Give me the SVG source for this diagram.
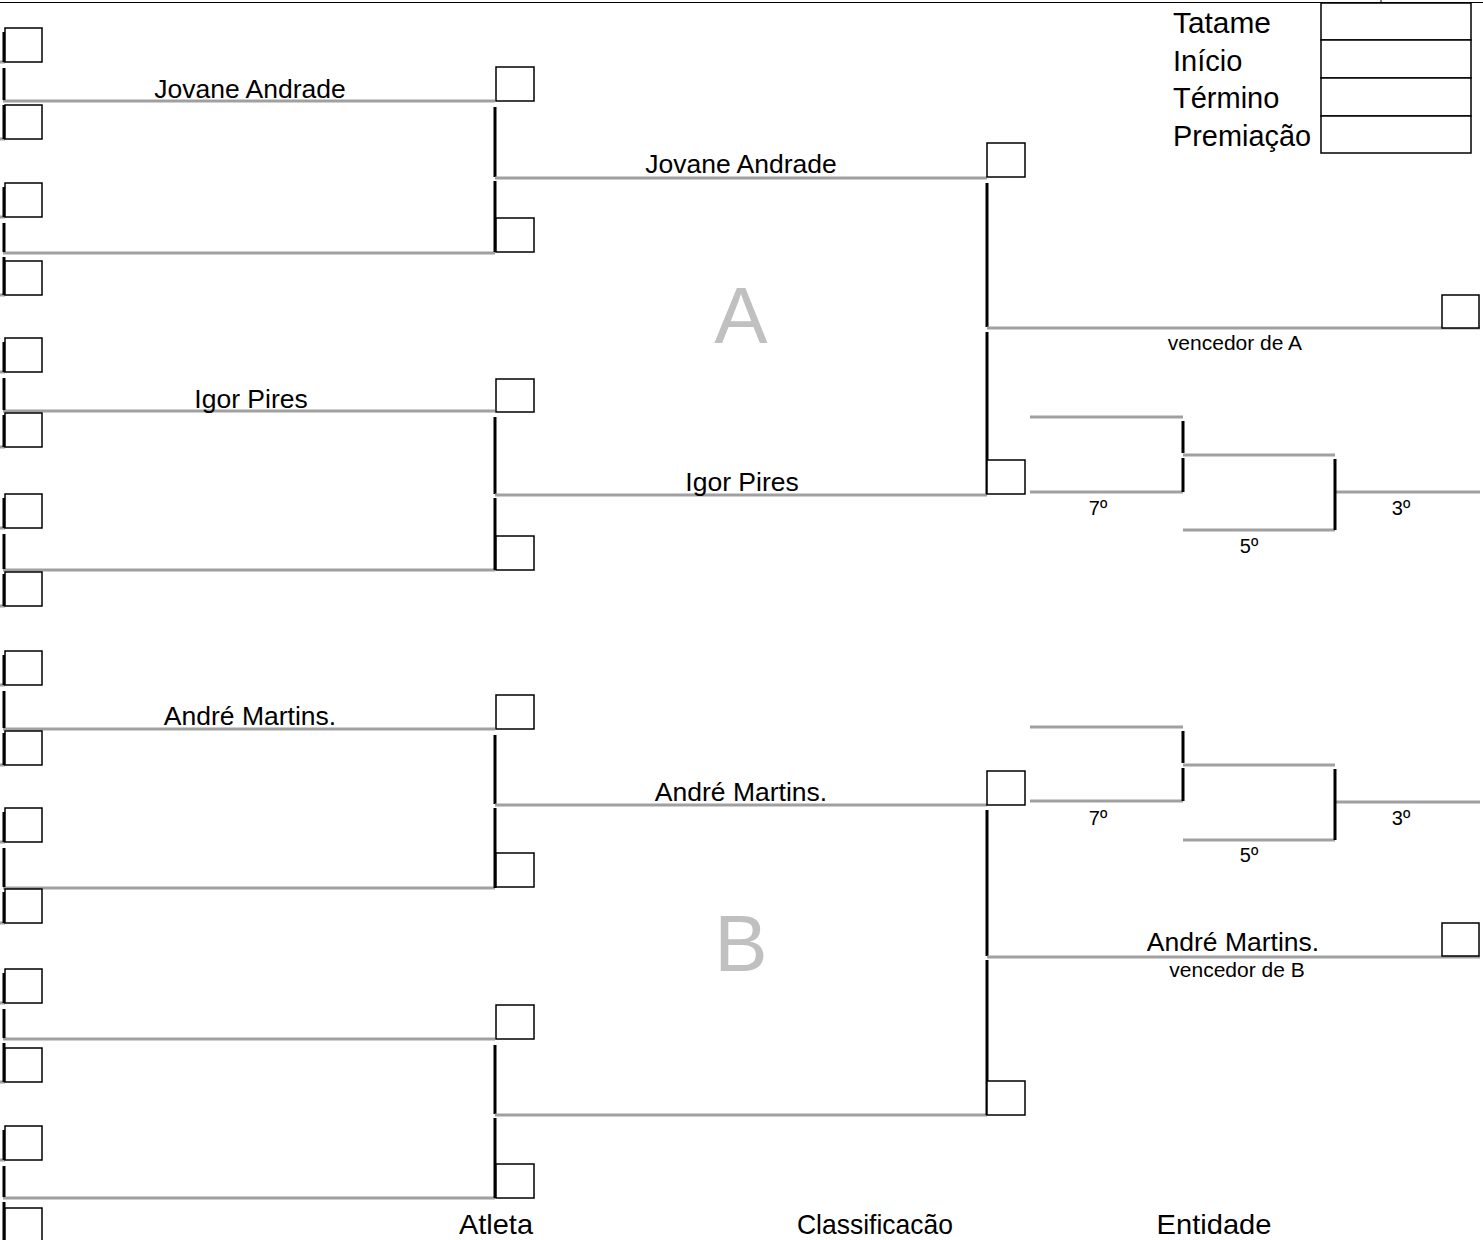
<svg xmlns="http://www.w3.org/2000/svg" width="1483" height="1240" viewBox="0 0 1483 1240">
<style>
.bx{fill:#fff;stroke:#000;stroke-width:1.5}
.g{stroke:#a0a0a0;stroke-width:3;fill:none}
.k{stroke:#000;stroke-width:3;fill:none}
.t{font-family:"Liberation Sans",Arial,sans-serif;fill:#000}
.n{font-size:26.5px;text-anchor:middle}
.s{font-size:20px;text-anchor:middle}
.v{font-size:21px;text-anchor:middle}
.big{font-size:80px;text-anchor:middle;fill:#c0c0c0}
.h{font-size:29px}
.f{font-size:28px;text-anchor:middle}
</style>
<rect width="1483" height="1240" fill="#fff"/>
<line x1="0" y1="2.5" x2="1483" y2="2.5" stroke="#000" stroke-width="1.2"/>
<line x1="1381" y1="0" x2="1381" y2="3" stroke="#000" stroke-width="1"/>
<g id="header">
<rect class="bx" x="1321" y="3" width="150" height="37"/>
<rect class="bx" x="1321" y="40" width="150" height="38"/>
<rect class="bx" x="1321" y="78" width="150" height="38"/>
<rect class="bx" x="1321" y="116" width="150" height="37"/>
<text class="t h" x="1173" y="33" textLength="98" lengthAdjust="spacingAndGlyphs">Tatame</text>
<text class="t h" x="1173" y="71">Início</text>
<text class="t h" x="1173" y="108">Término</text>
<text class="t h" x="1173" y="146" textLength="138" lengthAdjust="spacingAndGlyphs">Premiação</text>
</g>
<g id="connectors">
<path class="g" d="M3 101H495M3 253H495M3 411H495M3 570H495M3 729H495M3 888H495M3 1039H495M3 1198H495"/>
<path class="g" d="M0 62H5M0 139H5M0 217H5M0 295H5M0 372H5M0 447H5M0 528H5M0 606H5M0 685H5M0 765H5M0 842H5M0 923H5M0 1003H5M0 1082H5M0 1160H5"/>
<path class="k" d="M4 32V62M4 68V100M4 105V139
M4 187V217M4 223V252M4 257V295
M4 342V372M4 378V410M4 415V447
M4 498V528M4 534V569M4 574V606
M4 655V685M4 691V728M4 733V765
M4 812V842M4 848V887M4 892V923
M4 973V1003M4 1009V1038M4 1043V1082
M4 1130V1160M4 1166V1197M4 1202V1240"/>
<path class="k" d="M495 107V177M495 181V252M495 417V494M495 498V570M495 735V804M495 808V888M495 1045V1114M495 1118V1198"/>
<path class="g" d="M495 178H987M495 495H987M495 805H987M495 1115H987"/>
<path class="k" d="M987 183V327M987 332V494M987 810V956M987 960V1115"/>
<path class="g" d="M987 328H1480M987 957H1480"/>
<path class="g" d="M1030 417H1183M1030 492H1183M1183 455H1335M1183 530H1335M1335 492H1480"/>
<path class="k" d="M1183 421V453M1183 458V492M1335 459V530"/>
<path class="g" d="M1030 727H1183M1030 801H1183M1183 765H1335M1183 840H1335M1335 802H1480"/>
<path class="k" d="M1183 731V763M1183 768V801M1335 769V840"/>
</g>
<g id="round1">
<rect class="bx" x="5" y="28" width="37" height="34"/>
<rect class="bx" x="5" y="105" width="37" height="34"/>
<rect class="bx" x="5" y="183" width="37" height="34"/>
<rect class="bx" x="5" y="261" width="37" height="34"/>
<rect class="bx" x="5" y="338" width="37" height="34"/>
<rect class="bx" x="5" y="413" width="37" height="34"/>
<rect class="bx" x="5" y="494" width="37" height="34"/>
<rect class="bx" x="5" y="572" width="37" height="34"/>
<rect class="bx" x="5" y="651" width="37" height="34"/>
<rect class="bx" x="5" y="731" width="37" height="34"/>
<rect class="bx" x="5" y="808" width="37" height="34"/>
<rect class="bx" x="5" y="889" width="37" height="34"/>
<rect class="bx" x="5" y="969" width="37" height="34"/>
<rect class="bx" x="5" y="1048" width="37" height="34"/>
<rect class="bx" x="5" y="1126" width="37" height="34"/>
<rect class="bx" x="5" y="1208" width="37" height="34"/>
<text class="t n" x="250" y="98">Jovane Andrade</text>
<text class="t n" x="251" y="408">Igor Pires</text>
<text class="t n" x="250" y="725">André Martins.</text>
</g>
<g id="round2">
<rect class="bx" x="496" y="67" width="38" height="34"/>
<rect class="bx" x="496" y="218" width="38" height="34"/>
<rect class="bx" x="496" y="379" width="38" height="33"/>
<rect class="bx" x="496" y="536" width="38" height="34"/>
<rect class="bx" x="496" y="695" width="38" height="34"/>
<rect class="bx" x="496" y="853" width="38" height="34"/>
<rect class="bx" x="496" y="1005" width="38" height="34"/>
<rect class="bx" x="496" y="1164" width="38" height="34"/>
<text class="t n" x="741" y="173">Jovane Andrade</text>
<text class="t n" x="742" y="491">Igor Pires</text>
<text class="t n" x="741" y="801">André Martins.</text>
</g>
<g id="round3">
<rect class="bx" x="987" y="143" width="38" height="34"/>
<rect class="bx" x="987" y="460" width="38" height="34"/>
<rect class="bx" x="987" y="771" width="38" height="34"/>
<rect class="bx" x="987" y="1081" width="38" height="34"/>
<text class="t big" x="741" y="343">A</text>
<text class="t big" x="741" y="971">B</text>
</g>
<g id="final">
<rect class="bx" x="1442" y="295" width="37" height="33"/>
<rect class="bx" x="1442" y="923" width="37" height="33"/>
<text class="t v" x="1235" y="350">vencedor de A</text>
<text class="t n" x="1233" y="951">André Martins.</text>
<text class="t v" x="1237" y="977">vencedor de B</text>
</g>
<g id="places">
<text class="t s" x="1098" y="515">7º</text>
<text class="t s" x="1249" y="553">5º</text>
<text class="t s" x="1401" y="515">3º</text>
<text class="t s" x="1098" y="825">7º</text>
<text class="t s" x="1249" y="862">5º</text>
<text class="t s" x="1401" y="825">3º</text>
</g>
<g id="footer">
<text class="t f" x="496" y="1234" textLength="74" lengthAdjust="spacingAndGlyphs">Atleta</text>
<text class="t f" x="875" y="1234" textLength="156" lengthAdjust="spacingAndGlyphs">Classificacão</text>
<text class="t f" x="1214" y="1234" textLength="115" lengthAdjust="spacingAndGlyphs">Entidade</text>
</g>
</svg>
